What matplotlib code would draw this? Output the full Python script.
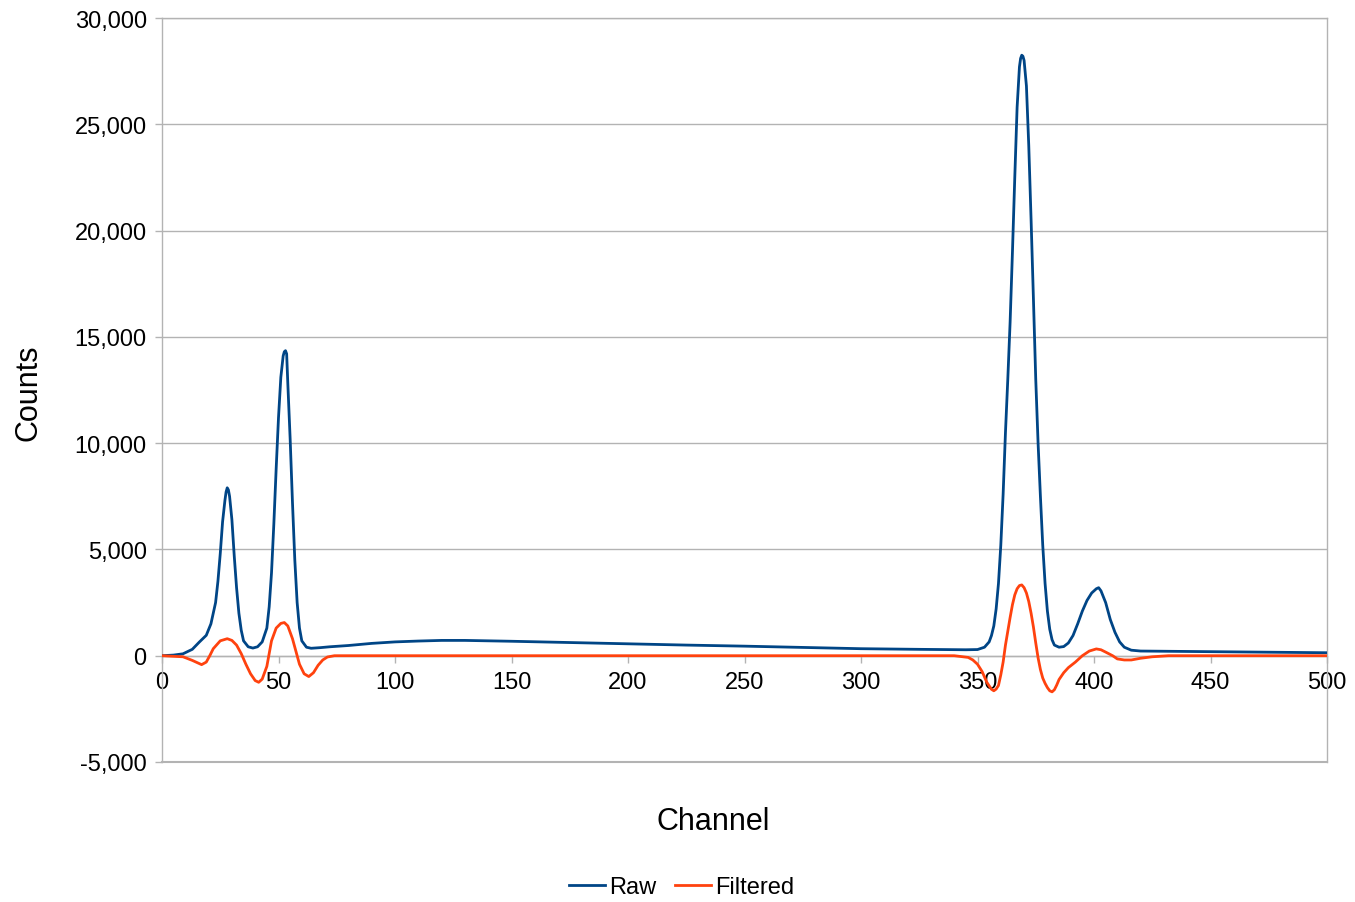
import matplotlib
matplotlib.use('Agg')
import matplotlib.pyplot as plt
from matplotlib.ticker import FuncFormatter

plt.rcParams['font.family'] = ['Liberation Sans', 'DejaVu Sans']

# Spectrum (channel, counts)
raw_channels = [0, 5, 9, 13, 16, 19, 21, 23, 24, 25, 26, 27, 27.5, 28, 28.5, 29, 30, 31, 32,
                33, 34, 35, 37, 39, 41, 43, 45, 46, 47, 48, 49, 50, 51, 52, 52.5, 53, 53.5, 54,
                55, 56, 57, 58, 59, 60, 62, 64, 68, 72, 80, 90, 100, 110, 120, 130, 140, 150,
                175, 200, 225, 250, 275, 300, 325, 345, 350, 353, 355, 356, 357, 358, 359, 360,
                361, 362, 363, 364, 365, 366, 367, 368, 368.5, 369, 369.5, 370, 371, 372, 373,
                374, 375, 376, 377, 378, 379, 380, 381, 382, 383, 385, 387, 389, 391, 393, 395,
                397, 399, 401, 402, 403, 405, 407, 409, 411, 413, 416, 420, 440, 460, 480, 500]
raw_counts = [0, 30, 90, 300, 640, 960, 1500, 2500, 3500, 4800, 6300, 7300, 7700, 7900, 7800,
              7500, 6400, 4700, 3200, 2000, 1200, 700, 420, 360, 420, 650, 1300, 2300, 3900,
              6200, 8800, 11200, 13100, 14100, 14300, 14350, 14200, 12800, 10200, 7200, 4500,
              2500, 1300, 700, 400, 350, 380, 420, 480, 580, 650, 690, 720, 720, 700, 680,
              620, 560, 500, 450, 390, 330, 300, 280, 290, 400, 650, 950, 1400, 2200, 3400,
              5200, 7600, 10500, 13000, 15700, 19000, 22500, 25800, 27700, 28100, 28250,
              28200, 28000, 26800, 24000, 20500, 16800, 13000, 10000, 7500, 5200, 3400, 2100,
              1250, 750, 500, 400, 430, 600, 950, 1500, 2100, 2600, 2950, 3150, 3200, 3050,
              2500, 1700, 1100, 650, 400, 260, 220, 200, 180, 160, 140]

filt_channels = [0, 9, 13, 17, 19, 20.5, 22, 25, 28, 30, 32, 34, 36, 38, 40, 41.5, 43, 45, 47,
                 49, 51, 52.5, 54, 56, 57.5, 59, 61, 63, 65, 67, 69, 71, 74, 340, 346, 348, 350,
                 352, 354, 356, 357, 358, 359, 360, 361, 362, 363, 364, 365, 366, 367, 368, 369,
                 370, 371, 372, 373, 374, 375, 376, 377, 378, 379, 380, 381, 382, 383, 384, 385,
                 387, 389, 392, 395, 398, 401, 403, 405, 408, 410, 413, 416, 420, 425, 432, 500]
filt_counts = [0, -50, -220, -420, -300, 0, 330, 700, 800, 720, 500, 100, -400, -850, -1170,
               -1250, -1100, -500, 700, 1300, 1520, 1560, 1400, 800, 200, -400, -850, -980,
               -800, -450, -200, -60, 0, 0, -80, -200, -400, -750, -1250, -1580, -1650, -1570,
               -1400, -900, -300, 500, 1150, 1800, 2400, 2860, 3150, 3300, 3330, 3200, 2950,
               2550, 2000, 1350, 600, -100, -650, -1050, -1300, -1500, -1650, -1700, -1600,
               -1380, -1120, -800, -560, -300, 0, 220, 320, 280, 170, 0, -150, -200, -200,
               -120, -50, 0, 0]

x_ticks = [0, 50, 100, 150, 200, 250, 300, 350, 400, 450, 500]
y_ticks = [-5000, 0, 5000, 10000, 15000, 20000, 25000, 30000]

RAW_COLOR = '#004586'
FILT_COLOR = '#ff420e'
GRID_COLOR = '#b3b3b3'

fig = plt.figure(figsize=(13.55, 9.03), dpi=100)
ax = fig.add_axes([162 / 1355, 1 - 763 / 903, (1327 - 162) / 1355, (763 - 19) / 903])

ax.plot(raw_channels, raw_counts, color=RAW_COLOR, linewidth=2.0, label='Raw', zorder=3,
        solid_joinstyle='round')
ax.plot(filt_channels, filt_counts, color=FILT_COLOR, linewidth=2.0, label='Filtered',
        zorder=3, solid_joinstyle='round')

ax.set_xlim(0, 500)
ax.set_ylim(-5000, 30000)
ax.set_xticks(x_ticks)
ax.set_yticks(y_ticks)
ax.yaxis.set_major_formatter(FuncFormatter(lambda v, p: f'{v:,.0f}'))
ax.grid(True, axis='y', color=GRID_COLOR, linewidth=1.0, zorder=0)

# frame: light gray box, x axis drawn at y = 0
for side in ['left', 'right', 'top']:
    ax.spines[side].set_color(GRID_COLOR)
    ax.spines[side].set_linewidth(1.0)
ax.spines['bottom'].set_position(('data', 0))
ax.spines['bottom'].set_color(GRID_COLOR)
ax.spines['bottom'].set_linewidth(1.0)
ax.axhline(-5000, color=GRID_COLOR, linewidth=1.5, clip_on=False, zorder=1)

ax.tick_params(axis='both', colors=GRID_COLOR, labelcolor='black', labelsize=17,
               length=5, width=1.0)
ax.tick_params(axis='x', pad=6)
ax.tick_params(axis='y', pad=6)

fig.text(28 / 1355, 1 - 393 / 903, 'Counts', rotation=90, ha='center', va='center', fontsize=22)
fig.text(713 / 1355, 1 - 822 / 903, 'Channel', ha='center', va='center', fontsize=22)

fig.legend(loc='center', bbox_to_anchor=(682 / 1355, 1 - 888 / 903), ncol=2, frameon=False,
           fontsize=17, handlelength=1.5, handletextpad=0.2, columnspacing=0.8)

fig.savefig('out.png', dpi=100, facecolor='white')
